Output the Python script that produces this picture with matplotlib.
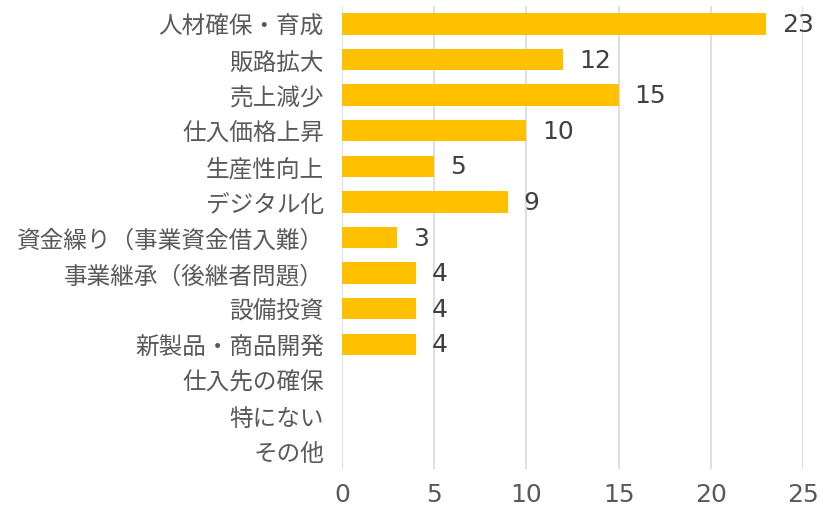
import matplotlib
matplotlib.use("Agg")
import matplotlib.pyplot as plt

plt.rcParams['font.family'] = ['Noto Sans CJK JP', 'DejaVu Sans']

categories = ["人材確保・育成", "販路拡大", "売上減少", "仕入価格上昇", "生産性向上", "デジタル化",
              "資金繰り（事業資金借入難）", "事業継承（後継者問題）", "設備投資", "新製品・商品開発",
              "仕入先の確保", "特にない", "その他"]
values = [23, 12, 15, 10, 5, 9, 3, 4, 4, 4, 0, 0, 0]
xticks = [0, 5, 10, 15, 20, 25]

fig = plt.figure(figsize=(8.23, 5.06), dpi=100)
ax = fig.add_axes([0.4156, 0.0711, 0.5601, 0.9149])

ypos = list(range(len(categories)))
ax.barh(ypos, values, height=0.6, color="#FFC000", zorder=3)
for y, v in zip(ypos, values):
    if v > 0:
        ax.text(v + 0.85, y, str(v), va="center", ha="left", fontsize=18,
                color="#404040", family="DejaVu Sans")

ax.set_yticks(ypos)
ax.set_yticklabels(categories, fontsize=17, color="#595959")
ax.set_ylim(len(categories) - 0.5, -0.5)
ax.set_xlim(0, 25)
ax.set_xticks(xticks)
ax.set_xticklabels([str(t) for t in xticks], fontsize=18, color="#595959", family="DejaVu Sans")
ax.tick_params(axis='both', length=0)
ax.tick_params(axis='x', pad=9)
ax.tick_params(axis='y', pad=13)
ax.grid(axis='x', color="#D9D9D9", linewidth=1.2, zorder=0)
for s in ax.spines.values():
    s.set_visible(False)

fig.savefig("out.png", dpi=100)
